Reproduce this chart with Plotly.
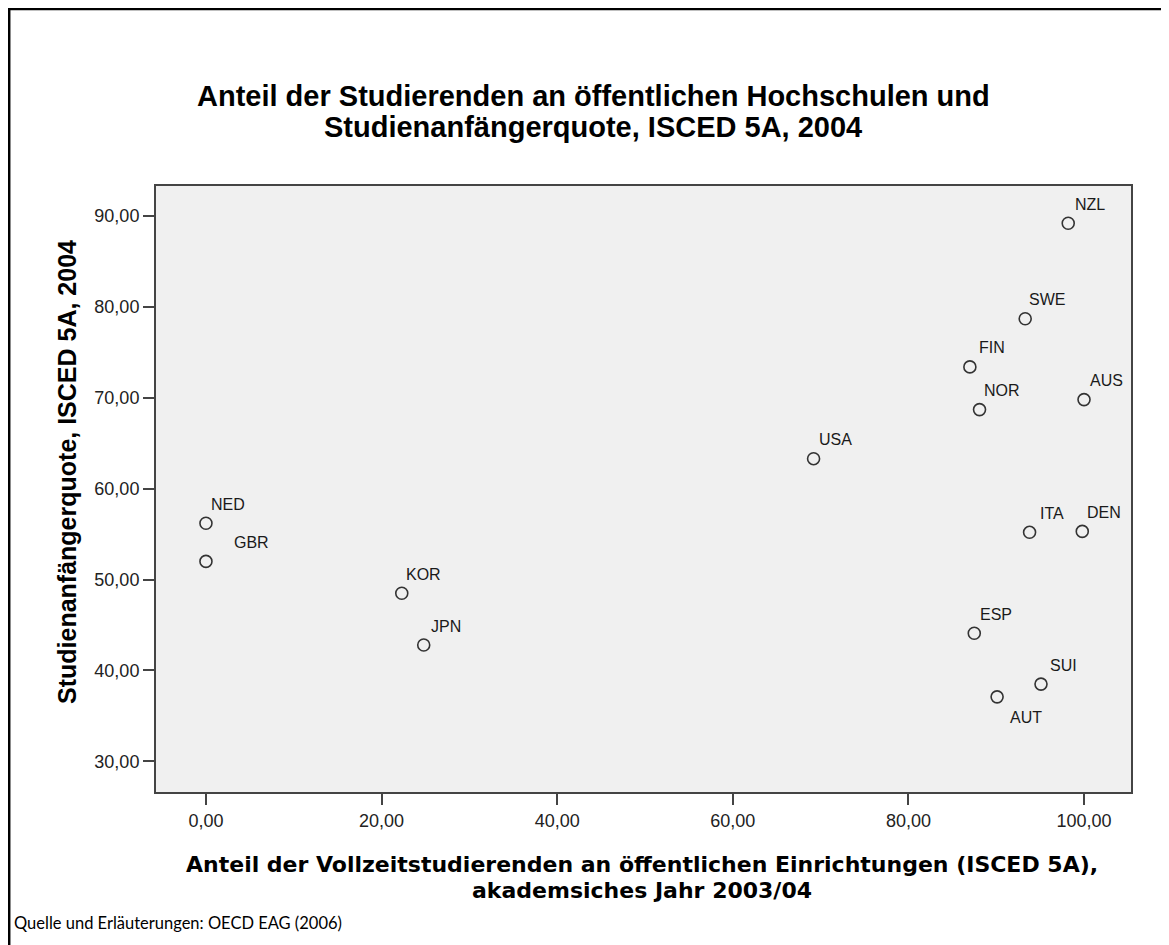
import plotly.graph_objects as go

# ---- data ----
countries = ["NED", "GBR", "KOR", "JPN", "USA", "FIN", "NOR", "SWE", "NZL",
             "AUS", "ITA", "DEN", "ESP", "SUI", "AUT"]
share_public_fulltime = [0.0, 0.0, 22.3, 24.8, 69.2, 87.0, 88.1, 93.3, 98.2,
                         100.0, 93.8, 99.8, 87.5, 95.1, 90.1]
entry_rate = [56.2, 52.0, 48.5, 42.8, 63.3, 73.4, 68.7, 78.7, 89.2,
              69.8, 55.2, 55.3, 44.1, 38.5, 37.1]
x_ticks = [0, 20, 40, 60, 80, 100]
y_ticks = [30, 40, 50, 60, 70, 80, 90]

title_lines = ["Anteil der Studierenden an öffentlichen Hochschulen und",
               "Studienanfängerquote, ISCED 5A, 2004"]
x_title_lines = ["Anteil der Vollzeitstudierenden an öffentlichen Einrichtungen (ISCED 5A),",
                 "akademsiches Jahr 2003/04"]
y_title = "Studienanfängerquote, ISCED 5A, 2004"
caption = "Quelle und Erläuterungen: OECD EAG (2006)"

# ---- layout geometry (page pixels; the page body adds an 8px offset) ----
OFF = 8
W, H = 1169 - OFF, 945 - OFF
L, R, T, B = 156, 1131, 186, 792          # plot area in page pixels
PW, PH = R - L, B - T


def px(x):
    return (x - L) / PW


def py(y):
    return (B - y) / PH


FONT = "Liberation Sans, Arial, sans-serif"
WIDE_BOLD = "DejaVu Sans, Liberation Sans, sans-serif"

fig = go.Figure()
fig.add_trace(go.Scatter(
    x=share_public_fulltime, y=entry_rate, mode="markers",
    marker=dict(symbol="circle-open", size=12, color="#333333",
                line=dict(width=1.6, color="#333333")),
    hoverinfo="text", text=countries, showlegend=False,
))

# label placement (pixel offsets from point)
default_off = (22, 19)
special_off = {"GBR": (46, 19), "AUT": (29, -21)}
for name, xv, yv in zip(countries, share_public_fulltime, entry_rate):
    dx, dy = special_off.get(name, default_off)
    fig.add_annotation(x=xv, y=yv, xref="x", yref="y", text=name,
                       showarrow=False, xshift=dx, yshift=dy,
                       xanchor="center", yanchor="middle",
                       font=dict(family=FONT, size=16, color="#1a1a1a"))

annos = [
    dict(x=px(593), y=py(96), text="<b>" + title_lines[0] + "</b>",
         font=dict(family=FONT, size=29, color="#000000"), xanchor="center"),
    dict(x=px(593), y=py(127), text="<b>" + title_lines[1] + "</b>",
         font=dict(family=FONT, size=29, color="#000000"), xanchor="center"),
    dict(x=px(642), y=py(864), text="<b>" + x_title_lines[0] + "</b>",
         font=dict(family=WIDE_BOLD, size=22, color="#000000"), xanchor="center"),
    dict(x=px(642), y=py(890), text="<b>" + x_title_lines[1] + "</b>",
         font=dict(family=WIDE_BOLD, size=22, color="#000000"), xanchor="center"),
    dict(x=px(67), y=py(472), text="<b>" + y_title + "</b>", textangle=-90,
         font=dict(family=FONT, size=25, color="#000000"), xanchor="center"),
    dict(x=px(12), y=py(923), text=caption,
         font=dict(family="Lato, Open Sans, sans-serif", size=16.5, color="#000000"),
         xanchor="left"),
]
for a in annos:
    fig.add_annotation(xref="paper", yref="paper", showarrow=False,
                       yanchor="middle", **a)

# outer frame (top and left edges of the exported picture)
fig.add_shape(type="line", xref="paper", yref="paper",
              x0=px(OFF), x1=px(OFF + W), y0=py(OFF + 1), y1=py(OFF + 1),
              line=dict(color="#000000", width=2.5))
fig.add_shape(type="line", xref="paper", yref="paper",
              x0=px(OFF + 1.2), x1=px(OFF + 1.2), y0=py(OFF), y1=py(OFF + H),
              line=dict(color="#000000", width=2.5))

axis_common = dict(
    showgrid=False, zeroline=False, showline=True, mirror=True,
    linecolor="#444444", linewidth=2, ticks="outside", ticklen=11,
    tickwidth=2, tickcolor="#444444", tickformat=".2f",
    tickfont=dict(family=FONT, size=18, color="#222222"),
)
fig.update_xaxes(range=[-5.69, 105.35], tickvals=x_ticks, **axis_common)
fig.update_yaxes(range=[26.63, 93.3], tickvals=y_ticks, **axis_common)

fig.update_layout(
    width=W, height=H,
    margin=dict(l=L - OFF, r=W - (R - OFF), t=T - OFF, b=H - (B - OFF), pad=0),
    paper_bgcolor="#ffffff", plot_bgcolor="#f0f0f0",
    separators=",.",
)

fig.write_html("out.html")
